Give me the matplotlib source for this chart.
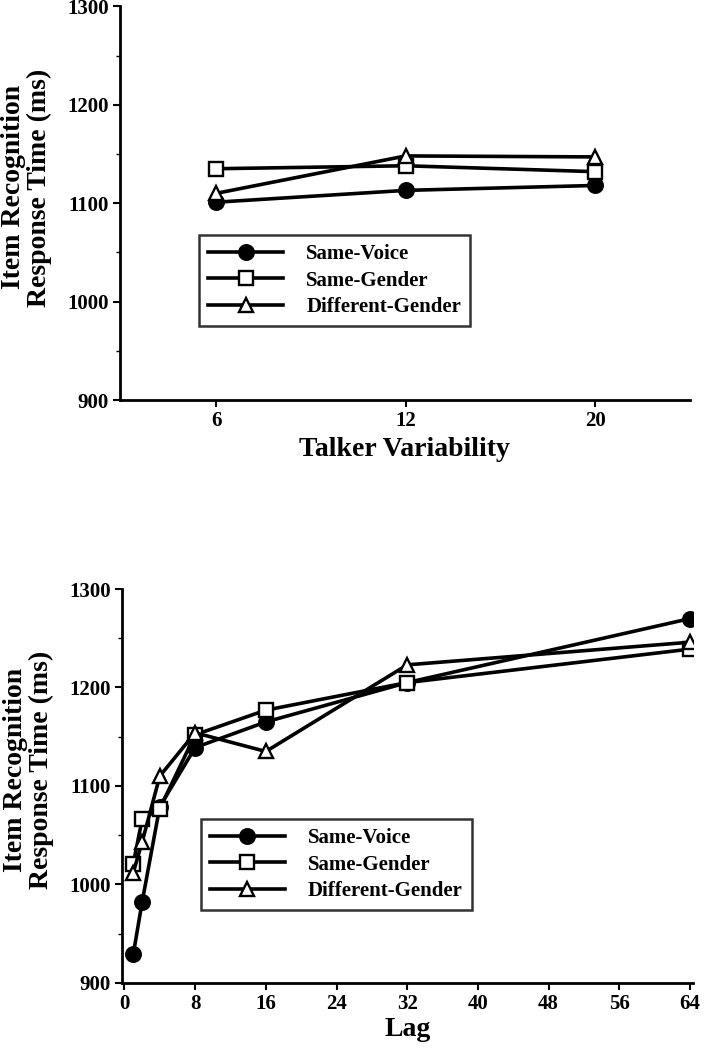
import matplotlib.pyplot as plt
from matplotlib.ticker import MultipleLocator

plt.rcParams['font.family'] = ['Liberation Serif', 'DejaVu Serif']
plt.rcParams['font.weight'] = 'bold'

# top panel: talker variability
talkers = [6, 12, 20]
tv_same_voice = [1101, 1113, 1118]
tv_same_gender = [1135, 1138, 1132]
tv_diff_gender = [1110, 1148, 1147]

# bottom panel: lag
lags = [1, 2, 4, 8, 16, 32, 64]
lag_same_voice = [929, 982, 1079, 1139, 1165, 1205, 1270]
lag_same_gender = [1021, 1066, 1077, 1152, 1177, 1205, 1239]
lag_diff_gender = [1012, 1043, 1110, 1154, 1135, 1223, 1246]

labels = ['Same-Voice', 'Same-Gender', 'Different-Gender']
styles = [
    dict(marker='o', markerfacecolor='black', markersize=10.5),
    dict(marker='s', markerfacecolor='white', markersize=9.5),
    dict(marker='^', markerfacecolor='white', markersize=9.5),
]


def style_axes(ax):
    for s in ['top', 'right']:
        ax.spines[s].set_visible(False)
    for s in ['left', 'bottom']:
        ax.spines[s].set_linewidth(2)
    ax.set_ylim(900, 1300)
    ax.yaxis.set_major_locator(MultipleLocator(100))
    ax.yaxis.set_minor_locator(MultipleLocator(50))
    ax.tick_params(axis='both', which='major', direction='out', length=5, width=1.5,
                   labelsize=15, pad=3)
    ax.tick_params(axis='y', which='minor', direction='out', length=3, width=1)
    for lab in ax.get_xticklabels() + ax.get_yticklabels():
        lab.set_fontweight('bold')
    ax.set_ylabel('Item Recognition\nResponse Time (ms)', fontsize=20, fontweight='bold',
                  linespacing=1.05)


def add_legend(ax, bbox):
    leg = ax.legend(loc='upper left', bbox_to_anchor=bbox, frameon=True, fancybox=False,
                    edgecolor='black', handlelength=3.6, handletextpad=1.1,
                    borderpad=0.45, labelspacing=0.3, borderaxespad=0,
                    prop={'size': 15, 'weight': 'bold'})
    leg.get_frame().set_linewidth(1.8)


fig = plt.figure(figsize=(7.04, 10.5), dpi=100)

ax1 = fig.add_axes([0.170, 0.619, 0.810, 0.375])
xpos = range(len(talkers))
for ys, lab, st in zip([tv_same_voice, tv_same_gender, tv_diff_gender], labels, styles):
    ax1.plot(xpos, ys, color='black', lw=2.6, markeredgecolor='black',
             markeredgewidth=1.7, label=lab, **st)
ax1.set_xlim(-0.51, 2.5)
ax1.set_xticks(list(xpos))
ax1.set_xticklabels([str(t) for t in talkers])
style_axes(ax1)
ax1.set_xlabel('Talker Variability', fontsize=20, fontweight='bold', labelpad=4)
ax1.yaxis.set_label_coords(-0.118, 0.54)
add_legend(ax1, (0.139, 0.419))

ax2 = fig.add_axes([0.173, 0.064, 0.811, 0.375])
for ys, lab, st in zip([lag_same_voice, lag_same_gender, lag_diff_gender], labels, styles):
    ax2.plot(lags, ys, color='black', lw=2.6, markeredgecolor='black',
             markeredgewidth=1.7, label=lab, **st)
ax2.set_xlim(-0.3, 64.3)
ax2.xaxis.set_major_locator(MultipleLocator(8))
style_axes(ax2)
ax2.set_xlabel('Lag', fontsize=20, fontweight='bold', labelpad=2)
ax2.yaxis.set_label_coords(-0.118, 0.54)
add_legend(ax2, (0.138, 0.416))

fig.savefig('out.png', dpi=100)
